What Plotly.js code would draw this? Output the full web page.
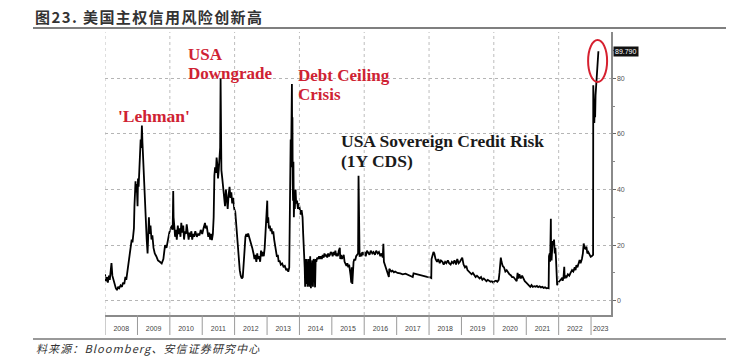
<!DOCTYPE html>
<html><head><meta charset="utf-8">
<script src="https://cdn.plot.ly/plotly-3.0.1.min.js"></script>
<style>html,body{margin:0;padding:0;background:#fff;}#chart{width:732px;height:358px;}</style>
</head><body><div id="chart"></div>
<script>
const dates = ['2008-01-01','2008-01-12','2008-01-22','2008-02-02','2008-02-14','2008-02-24','2008-03-06','2008-03-14','2008-03-24','2008-04-05','2008-04-20','2008-05-02','2008-05-15','2008-05-28','2008-06-10','2008-06-25','2008-07-10','2008-07-22','2008-08-05','2008-08-18','2008-08-28','2008-09-08','2008-09-18','2008-09-28','2008-10-08','2008-10-18','2008-10-28','2008-11-06','2008-11-14','2008-11-22','2008-11-28','2008-12-04','2008-12-10','2008-12-16','2008-12-23',
'2009-01-02','2009-01-07','2009-01-14','2009-01-21','2009-01-29','2009-02-06','2009-02-13','2009-02-20','2009-02-26','2009-03-06','2009-03-15','2009-03-25','2009-04-05','2009-04-15','2009-04-25','2009-05-02','2009-05-10','2009-05-18','2009-05-28','2009-06-08','2009-06-18','2009-07-01','2009-07-15','2009-08-01','2009-08-20','2009-09-10','2009-10-01','2009-10-20','2009-11-08','2009-11-24','2009-12-10','2009-12-26',
'2010-01-10','2010-01-24','2010-02-02','2010-02-08','2010-02-12','2010-02-20','2010-03-01','2010-03-10','2010-03-20','2010-04-01','2010-04-10','2010-04-20','2010-05-01','2010-05-10','2010-05-20','2010-06-01','2010-06-10','2010-06-20','2010-07-01','2010-07-10','2010-07-20','2010-08-01','2010-08-10','2010-08-20','2010-09-01','2010-09-10','2010-09-20','2010-10-01','2010-10-15','2010-11-01','2010-11-15','2010-12-01','2010-12-15',
'2011-01-01','2011-01-15','2011-02-01','2011-02-10','2011-02-20','2011-03-01','2011-03-10','2011-03-20','2011-04-01','2011-04-10','2011-04-20','2011-05-01','2011-05-10','2011-05-18','2011-05-26','2011-06-04','2011-06-12','2011-06-20','2011-06-28','2011-07-06','2011-07-14','2011-07-22','2011-07-27','2011-07-30','2011-08-05','2011-08-15','2011-08-25','2011-09-05','2011-09-15','2011-09-25','2011-10-05','2011-10-15','2011-10-25','2011-11-05','2011-11-15','2011-11-25','2011-12-05','2011-12-15','2011-12-28',
'2012-01-08','2012-01-18','2012-01-28','2012-02-08','2012-02-18','2012-02-28','2012-03-10','2012-03-22','2012-04-02','2012-04-12','2012-04-22','2012-05-02','2012-05-12','2012-05-22','2012-06-02','2012-06-12','2012-06-22','2012-07-05','2012-07-18','2012-08-01','2012-08-12','2012-08-22','2012-09-02','2012-09-12','2012-09-22','2012-10-05','2012-10-15','2012-10-25','2012-11-05','2012-11-15','2012-11-25','2012-12-05','2012-12-15','2012-12-26',
'2013-01-03','2013-01-07','2013-01-14','2013-01-22','2013-02-01','2013-02-10','2013-02-20','2013-03-01','2013-03-12','2013-03-22','2013-04-02','2013-04-12','2013-04-22','2013-05-02','2013-05-12','2013-05-22','2013-06-05','2013-06-20','2013-07-05','2013-07-20','2013-08-05','2013-08-18','2013-08-28','2013-09-08','2013-09-16','2013-09-20','2013-09-24','2013-09-28','2013-10-02','2013-10-08','2013-10-11','2013-10-14','2013-10-17','2013-10-21','2013-10-25','2013-10-30','2013-11-05','2013-11-10','2013-11-18','2013-11-25','2013-12-05','2013-12-15','2013-12-25',
'2014-01-05','2014-01-15','2014-01-25','2014-02-05','2014-02-12','2014-02-18','2014-02-25','2014-03-01','2014-03-06','2014-03-12','2014-03-18','2014-03-26','2014-04-02','2014-04-10','2014-04-18','2014-04-24','2014-05-02','2014-05-10','2014-05-18','2014-05-26','2014-06-02','2014-06-10','2014-06-18','2014-06-26','2014-07-03','2014-07-10','2014-07-20','2014-08-01','2014-08-10','2014-08-20','2014-09-01','2014-09-10','2014-09-20','2014-10-01','2014-10-10','2014-10-20','2014-11-01','2014-11-10','2014-11-20','2014-12-01','2014-12-10','2014-12-20',
'2015-01-01','2015-01-10','2015-01-20','2015-02-01','2015-02-10','2015-02-20','2015-03-01','2015-03-10','2015-03-20','2015-04-01','2015-04-06','2015-04-15','2015-04-25','2015-05-05','2015-05-15','2015-05-25','2015-06-05','2015-06-15','2015-06-25','2015-07-05','2015-07-15','2015-07-25','2015-08-01','2015-08-08','2015-08-14','2015-08-20','2015-08-26','2015-09-03','2015-09-12','2015-09-22','2015-10-02','2015-10-15','2015-10-24','2015-10-29','2015-11-02','2015-11-10','2015-11-20','2015-12-01','2015-12-10','2015-12-22',
'2016-01-05','2016-01-18','2016-02-01','2016-02-15','2016-03-01','2016-03-15','2016-04-01','2016-04-15','2016-05-01','2016-05-15','2016-06-01','2016-06-15','2016-07-01','2016-07-15','2016-07-28','2016-08-04','2016-08-10','2016-08-20','2016-09-01','2016-09-15','2016-09-25','2016-10-05','2016-10-10','2016-10-20','2016-11-01','2016-11-15','2016-12-01','2016-12-15',
'2017-01-10','2017-02-10','2017-03-10','2017-04-10','2017-05-10','2017-06-10','2017-07-01','2017-07-10','2017-08-10','2017-09-10','2017-10-10','2017-11-10','2017-12-10',
'2018-01-15','2018-01-26','2018-01-29','2018-02-10','2018-02-20','2018-03-01','2018-03-15','2018-04-01','2018-04-15','2018-05-01','2018-05-15','2018-06-01','2018-06-15','2018-07-01','2018-07-15','2018-08-01','2018-08-15','2018-09-01','2018-09-15','2018-10-01','2018-10-15','2018-11-01','2018-11-15','2018-12-01','2018-12-15',
'2019-01-10','2019-01-25','2019-02-10','2019-02-25','2019-03-10','2019-03-25','2019-04-10','2019-04-25','2019-05-10','2019-05-25','2019-06-10','2019-06-25','2019-07-10','2019-07-25','2019-08-10','2019-08-25','2019-09-10','2019-09-25','2019-10-10','2019-10-25','2019-11-10','2019-11-25','2019-12-10','2019-12-25',
'2020-01-10','2020-01-25','2020-02-10','2020-02-25','2020-03-05','2020-03-12','2020-03-20','2020-03-28','2020-04-10','2020-04-25','2020-05-10','2020-05-25','2020-06-10','2020-06-25','2020-07-10','2020-07-25','2020-08-10','2020-08-25','2020-09-05','2020-09-15','2020-09-25','2020-10-05','2020-10-15','2020-11-01','2020-11-15','2020-12-01','2020-12-15',
'2021-01-01','2021-01-15','2021-02-01','2021-02-15','2021-03-01','2021-03-15','2021-04-01','2021-04-15','2021-05-01','2021-05-15','2021-06-01','2021-06-15','2021-07-01','2021-07-15','2021-08-01','2021-08-15','2021-09-01','2021-09-10','2021-09-14','2021-09-22','2021-09-27','2021-10-01','2021-10-05','2021-10-08','2021-10-13','2021-10-19','2021-10-26','2021-11-02','2021-11-10','2021-11-18','2021-11-25','2021-12-02','2021-12-07','2021-12-15','2021-12-26',
'2022-01-10','2022-01-25','2022-02-05','2022-02-15','2022-02-25','2022-03-05','2022-03-10','2022-03-20','2022-04-01','2022-04-15','2022-05-01','2022-05-15','2022-06-01','2022-06-15','2022-07-01','2022-07-10','2022-07-20','2022-08-01','2022-08-15','2022-08-25','2022-09-05','2022-09-20','2022-10-01','2022-10-10','2022-10-20','2022-11-01','2022-11-10','2022-11-20','2022-12-01','2022-12-15','2022-12-28',
'2023-01-08','2023-01-24','2023-01-26','2023-01-30','2023-02-03','2023-02-07','2023-02-12','2023-02-16','2023-02-21','2023-02-27','2023-03-06','2023-03-15','2023-03-25'];

const cds = [9.5,7,8.5,6.5,9,7.5,11,13.5,9,7.5,6,4.5,3.8,5,4.5,5.5,5,6.5,6,8.6,7.5,10,13,16,18,19.5,22,21,24,26,34,41,43,39,42,
34,44,41,46,52,58,55,63,57,50,44,40,30,22,17,26,30,24,27,22,23.5,19,17,16,14.5,14,13.4,15,20,19,22,24.5,
26,27,25.5,39.5,30,27,23,25.5,22,27,24,26,23,28,24.5,27,22,25,24,27.5,24,22,24.5,23,25,22,24,23,25,23,24,23.5,25.5,
24,26,28,26,27,25,23,24.5,22,24,21.8,24,30,45,48,46,51.5,49,44,47,50,55,80,58,47,44,40,36,34,40,36,33,38,41,37,39,35,37,33,
32,28,24,19,14,11,9,8,8.5,12,18,23,24,23,24.2,23,22,21,19,17,15,16.5,14,17,15,16,14,18,16,17.5,16,19,24,28,
36,28,30,26,27,25,26,24,25,22,19,17,15.8,16.5,14,14.5,13,13.4,12.2,12.5,11,11.5,10.4,12,29,45,58,48,65,78,56,66,42,36,50,30,38,33,40,35,36,33,35,
33,31,32.6,30,24,21,16,12,5,15,6,15,5,14,15,5,16,4.5,14,14.5,5,15,13.5,4.8,15,14,15.5,15,16,15,16,15,16.5,15.5,17,16,16.5,15.5,17,16,16.5,17.5,
17,16,17.5,16.5,18,16,17,16,18,19,15,16.5,15,16,16.5,14,13,12.5,13.5,12,13,11,9,6.5,12,6,10,14,15,14.5,16,16.5,17,45,18,15.8,17,16,17.5,16.5,
17.5,16,18,17,16.5,18,17,17.5,16.5,18,17,17.5,16,17,15.5,20.5,14,13,12,11,9.5,8.5,11.5,11,10.5,10.8,10.2,10.5,
10,9.8,9.5,9.7,9.3,9,8.5,9.8,9.5,9.3,9,8.8,8.6,
8.4,8.2,15,16,17.5,17,15,14,15,13.5,14.5,14,13,14,13.5,14.5,13.5,13,14,13.5,14.5,13,15,13.5,14,
15.5,13,12,12.5,11,10.5,10,9.5,10,9,8.5,9,8.5,8,8.5,7.5,8,7.5,7,7.5,7,6.8,7,6.5,
7,7.2,6.8,7.5,10,13,15.5,14,12.5,12,10.5,11,10,9.5,9.2,8.5,8.5,8,7.5,7,10,8,9.5,8,9,7.5,7,
6.5,6,5.5,5,5.6,5,5.2,5,5.3,4.9,5.2,4.8,5,4.6,4.8,4.5,4.6,4.5,16,17,14,20,29.5,16,14.5,18,21.5,20,22,17,19,15,6,5.6,6.5,
7,7.5,8,7.2,8.5,12.2,8,9,8.5,9.5,9,10,11,10.5,12,11,12.8,12,13.5,14.6,13.5,15,17,20.6,19,18.5,19.5,17,17.5,16.5,15.8,
16,16.5,77.5,68,75,64,72,66,74,78,82,86,89.79];

const years = ['2008','2009','2010','2011','2012','2013','2014','2015','2016','2017','2018','2019','2020','2021','2022','2023'];
const yearLabelPos = ['2008-07-02','2009-07-02','2010-07-02','2011-07-02','2012-07-02','2013-07-02','2014-07-02','2015-07-02','2016-07-02','2017-07-02','2018-07-02','2019-07-02','2020-07-02','2021-07-02','2022-07-02','2023-04-20'];
const gridYears = ['2008-01-01','2010-01-01','2012-01-01','2014-01-01','2016-01-01','2018-01-01','2020-01-01','2022-01-01'];
const xRange = ['2008-01-01','2023-08-14'];
const yTicks = [0,20,40,60,80];
const lastValue = 89.79;

// pixel helpers for page-level decorations
const L=105, T=32, W=506, H=283;
const px = x => (x-L)/W;
const py = y => (T+H-y)/H;

const shapes = [];
years.forEach(y => {
  shapes.push({type:'line', xref:'x', yref:'paper', x0:y+'-01-01', x1:y+'-01-01', y0:0, y1:py(335), line:{color:'#9a9a9a', width:1}});
});
gridYears.forEach(d => {
  shapes.push({type:'line', xref:'x', yref:'paper', x0:d, x1:d, y0:0, y1:1, line:{color:'#bdbdbd', width:1, dash:'dot'}});
});
shapes.push({type:'line', xref:'paper', yref:'paper', x0:px(33), x1:px(726), y0:py(28), y1:py(28), line:{color:'#555', width:1.5}});
shapes.push({type:'line', xref:'paper', yref:'paper', x0:px(33), x1:px(726), y0:py(339), y1:py(339), line:{color:'#999', width:2}});
shapes.push({type:'circle', xref:'x', yref:'y', x0:'2022-11-29', x1:'2023-07-01', y0:78.7, y1:93.8, line:{color:'#d6202f', width:2}});

const red = '#cf2233';
const ser = {family:'Liberation Serif, Times New Roman, serif', size:17, color:red, weight:700};
function lab(text, x, y, color, size){
  return {text:text, xref:'paper', yref:'paper', x:px(x), y:py(y), xanchor:'left', yanchor:'middle', showarrow:false,
    font:Object.assign({}, ser, color?{color:color}:{}, size?{size:size}:{})};
}
const annotations = [
  lab("'Lehman'", 116, 116, null, 17.5),
  lab('USA', 186, 54),
  lab('Downgrade', 186, 73),
  lab('Debt Ceiling', 296, 75),
  lab('Crisis', 296, 94),
  lab('USA Sovereign Credit Risk', 339, 141, '#1a1a1a', 17.5),
  lab('(1Y CDS)', 339, 161, '#1a1a1a', 17.5),
  {text:'<span style="letter-spacing:1.4px">图23. 美国主权信用风险创新高</span>', xref:'paper', yref:'paper', x:px(33), y:py(16), xanchor:'left', yanchor:'middle', showarrow:false,
    font:{family:'Noto Sans CJK SC', size:15, color:'#333', weight:700}},
  {text:'<span style="letter-spacing:1.1px">料来源：Bloomberg、安信证券研究中心</span>', xref:'paper', yref:'paper', x:px(34), y:py(348), xanchor:'left', yanchor:'middle', showarrow:false,
    font:{family:'Noto Sans CJK SC', size:11, color:'#333', style:'italic'}},
  {text:lastValue.toFixed(3), xref:'paper', yref:'y', x:1, y:lastValue, xanchor:'left', yanchor:'middle', xshift:2, showarrow:false,
    bgcolor:'#111', borderpad:1, font:{family:'Liberation Sans, Arial, sans-serif', size:7, color:'#fff'}}
];

const trace = {x:dates, y:cds, type:'scatter', mode:'lines', line:{color:'#000', width:1.8}, hoverinfo:'skip'};

const layout = {
  width:732, height:358,
  margin:{l:L, r:732-L-W, t:T, b:358-T-H},
  paper_bgcolor:'#fff', plot_bgcolor:'#fff',
  showlegend:false,
  xaxis:{type:'date', range:xRange, tickmode:'array', tickvals:yearLabelPos, ticktext:years,
    ticks:'', showgrid:false, zeroline:false, showline:true, linecolor:'#8a8a8a', linewidth:1.5,
    tickfont:{family:'Liberation Sans, Arial, sans-serif', size:7, color:'#444'}, ticklabelstandoff:6},
  yaxis:{side:'right', range:[-5.15, 96.7], tickmode:'array', tickvals:yTicks, ticks:'outside', ticklen:3, tickcolor:'#666',
    showgrid:true, gridcolor:'#b5b5b5', griddash:'dot', gridwidth:1, zeroline:false, showline:true, linecolor:'#8a8a8a', linewidth:1.5,
    minor:{tickvals:[10,30,50,70,90], ticks:'outside', ticklen:2, tickcolor:'#888', showgrid:false},
    tickfont:{family:'Liberation Sans, Arial, sans-serif', size:7, color:'#555'}},
  shapes:shapes, annotations:annotations
};

Plotly.newPlot('chart', [trace], layout, {staticPlot:true, displayModeBar:false});
</script></body></html>
